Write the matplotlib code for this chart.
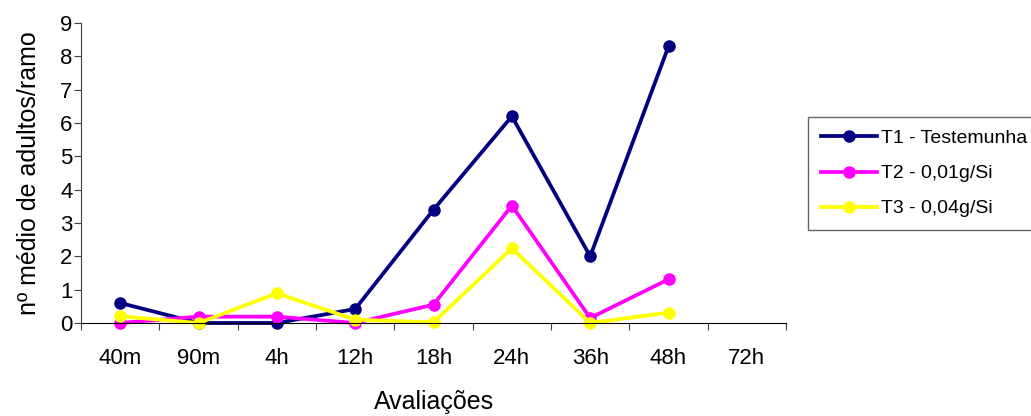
import matplotlib
matplotlib.use("Agg")
import matplotlib.pyplot as plt
import numpy as np

plt.rcParams['font.family'] = ['Liberation Sans', 'DejaVu Sans']

avaliacoes = ['40m', '90m', '4h', '12h', '18h', '24h', '36h', '48h', '72h']
t1 = [0.6, 0.0, 0.0, 0.42, 3.4, 6.2, 2.0, 8.3]
t2 = [0.0, 0.19, 0.19, 0.0, 0.55, 3.52, 0.15, 1.31]
t3 = [0.2, 0.0, 0.89, 0.1, 0.02, 2.24, 0.0, 0.31]

series = [
    (t1, 'T1 - Testemunha', '#000080'),
    (t2, 'T2 - 0,01g/Si', '#FF00FF'),
    (t3, 'T3 - 0,04g/Si', '#FFFF00'),
]

fig = plt.figure(figsize=(10.31, 4.16), dpi=100)
ax = fig.add_axes([0.0786, 0.2236, 0.6838, 0.7211])

for vals, lab, col in series:
    x = np.arange(len(vals)) + 0.5
    ax.plot(x, vals, color=col, lw=2.7, marker='o', markersize=8,
            label=lab, clip_on=False)

n = len(avaliacoes)
ax.set_xlim(0, n)
ax.set_ylim(0, 9)
ax.set_yticks(range(10))
ax.set_xticks(np.arange(n + 1))
ax.set_xticklabels([])
ax.set_xticks(np.arange(n) + 0.5, minor=True)
ax.set_xticklabels(avaliacoes, minor=True)
ax.tick_params(axis='x', which='minor', length=0, pad=18, labelsize=16)
ax.tick_params(axis='x', which='major', length=5, direction='out', color='#404040')
ax.tick_params(axis='y', length=5, direction='out', labelsize=16, pad=1, color='#404040')

for s in ['top', 'right']:
    ax.spines[s].set_visible(False)
ax.spines['left'].set_color('#404040')
ax.spines['bottom'].set_color('black')

ax.set_xlabel('Avaliações', fontsize=18, labelpad=15)
ax.set_ylabel('nº médio de adultos/ramo', fontsize=18, labelpad=14)

leg = fig.legend(loc='upper left', bbox_to_anchor=(808 / 1031, 1 - 117 / 416),
                 fontsize=14, frameon=True, fancybox=False, handlelength=2.9,
                 labelspacing=0.9, borderpad=0.65, handletextpad=0.2,
                 borderaxespad=0)
leg.get_frame().set_edgecolor('#404040')
leg.get_frame().set_linewidth(1.0)

fig.savefig('out.png', dpi=100)
